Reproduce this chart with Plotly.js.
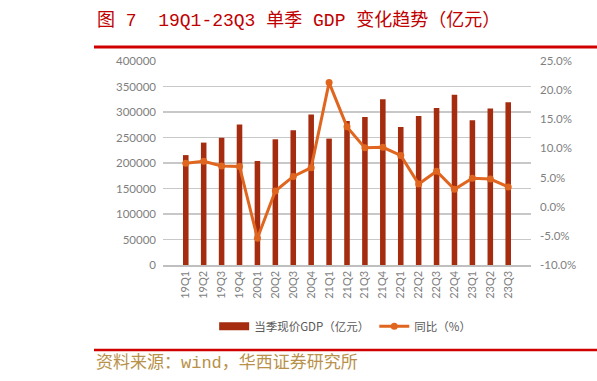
<!DOCTYPE html>
<html>
<head>
<meta charset="utf-8">
<script src="https://cdn.plot.ly/plotly-3.0.1.min.js"></script>
<style>html,body{margin:0;padding:0;background:#fff;}#chart{width:597px;height:381px;}</style>
</head>
<body>
<div id="chart"></div>
<script>
const quarters = ["19Q1","19Q2","19Q3","19Q4","20Q1","20Q2","20Q3","20Q4","21Q1","21Q2","21Q3","21Q4","22Q1","22Q2","22Q3","22Q4","23Q1","23Q2","23Q3"];
const gdp = [215500,240000,249500,275500,204000,246500,264200,295000,247800,282300,290300,325000,270500,292300,307800,334000,283700,306700,319200];
const yoy = [7.45,7.8,7.0,6.9,-5.4,2.7,5.2,6.7,21.3,13.7,10.1,10.2,8.8,3.9,6.1,3.0,4.9,4.75,3.4];
const leftTicks = [0,50000,100000,150000,200000,250000,300000,350000,400000];
const rightTicks = [-10,-5,0,5,10,15,20,25];

const barColor = "#a52c0f";
const lineColor = "#e0661f";
const tickFont = {family: "Lato, 'Noto Sans', sans-serif", size: 11.5, color: "#7f7f7f"};
const monoCJK = "'Liberation Mono', 'DejaVu Sans Mono', 'Noto Sans CJK SC', monospace";

const data = [
  {type: "bar", x: quarters, y: gdp, name: "当季现价GDP（亿元）", marker: {color: barColor}, width: 0.31, showlegend: false},
  {type: "scatter", mode: "lines", x: [null], y: [null], name: "当季现价GDP（亿元）", line: {color: barColor, width: 8}, showlegend: true, hoverinfo: "skip"},
  {type: "scatter", mode: "lines+markers", x: quarters, y: yoy, yaxis: "y2", name: "同比（%）",
   line: {color: lineColor, width: 3}, marker: {color: lineColor, size: 7}}
];

const layout = {
  width: 597, height: 381,
  margin: {l: 163, r: 66, t: 61, b: 116},
  paper_bgcolor: "#fff", plot_bgcolor: "#fff",
  showlegend: true,
  legend: {orientation: "h", x: 0.495, xanchor: "center", y: -0.30, yanchor: "middle",
    font: {family: "'Noto Sans CJK SC', sans-serif", size: 11.5, color: "#595959"}, itemwidth: 30, tracegroupgap: 0},
  xaxis: {type: "category", tickangle: -90, tickfont: {family: "Lato, 'Noto Sans', sans-serif", size: 11, color: "#7f7f7f"},
    showline: true, linecolor: "#bfbfbf", linewidth: 1.5, showgrid: false, ticks: "", zeroline: false},
  yaxis: {range: [0, 400000], tickvals: leftTicks, ticktext: leftTicks.map(String), tickfont: tickFont, ticklabelstandoff: 6,
    showgrid: true, gridcolor: "#c8c8c8", gridwidth: 1.5, zeroline: false, ticks: "", showline: false},
  yaxis2: {overlaying: "y", side: "right", range: [-10, 25], tickvals: rightTicks, ticklabelstandoff: 8,
    ticktext: rightTicks.map(v => v.toFixed(1) + "%"), tickfont: tickFont, showgrid: false, zeroline: false, ticks: ""},
  shapes: [
    {type: "line", xref: "paper", yref: "paper", x0: -0.1875, x1: 1.2, y0: 1.0686, y1: 1.0686, line: {color: "#d00000", width: 3}},
    {type: "line", xref: "paper", yref: "paper", x0: -0.1875, x1: 1.2, y0: -0.4167, y1: -0.4167, line: {color: "#d00000", width: 2.5}}
  ],
  annotations: [
    {xref: "paper", yref: "paper", x: -0.185, y: 1.20, xanchor: "left", yanchor: "middle", showarrow: false,
     text: "图 7  19Q1-23Q3 单季 GDP 变化趋势（亿元）", font: {family: monoCJK, size: 18, color: "#c00000"}},
    {xref: "paper", yref: "paper", x: -0.1875, y: -0.48, xanchor: "left", yanchor: "middle", showarrow: false,
     text: "资料来源：wind，华西证券研究所", font: {family: monoCJK, size: 17, color: "#b8914a"}}
  ]
};

Plotly.newPlot("chart", data, layout, {displayModeBar: false, staticPlot: true});
</script>
</body>
</html>
